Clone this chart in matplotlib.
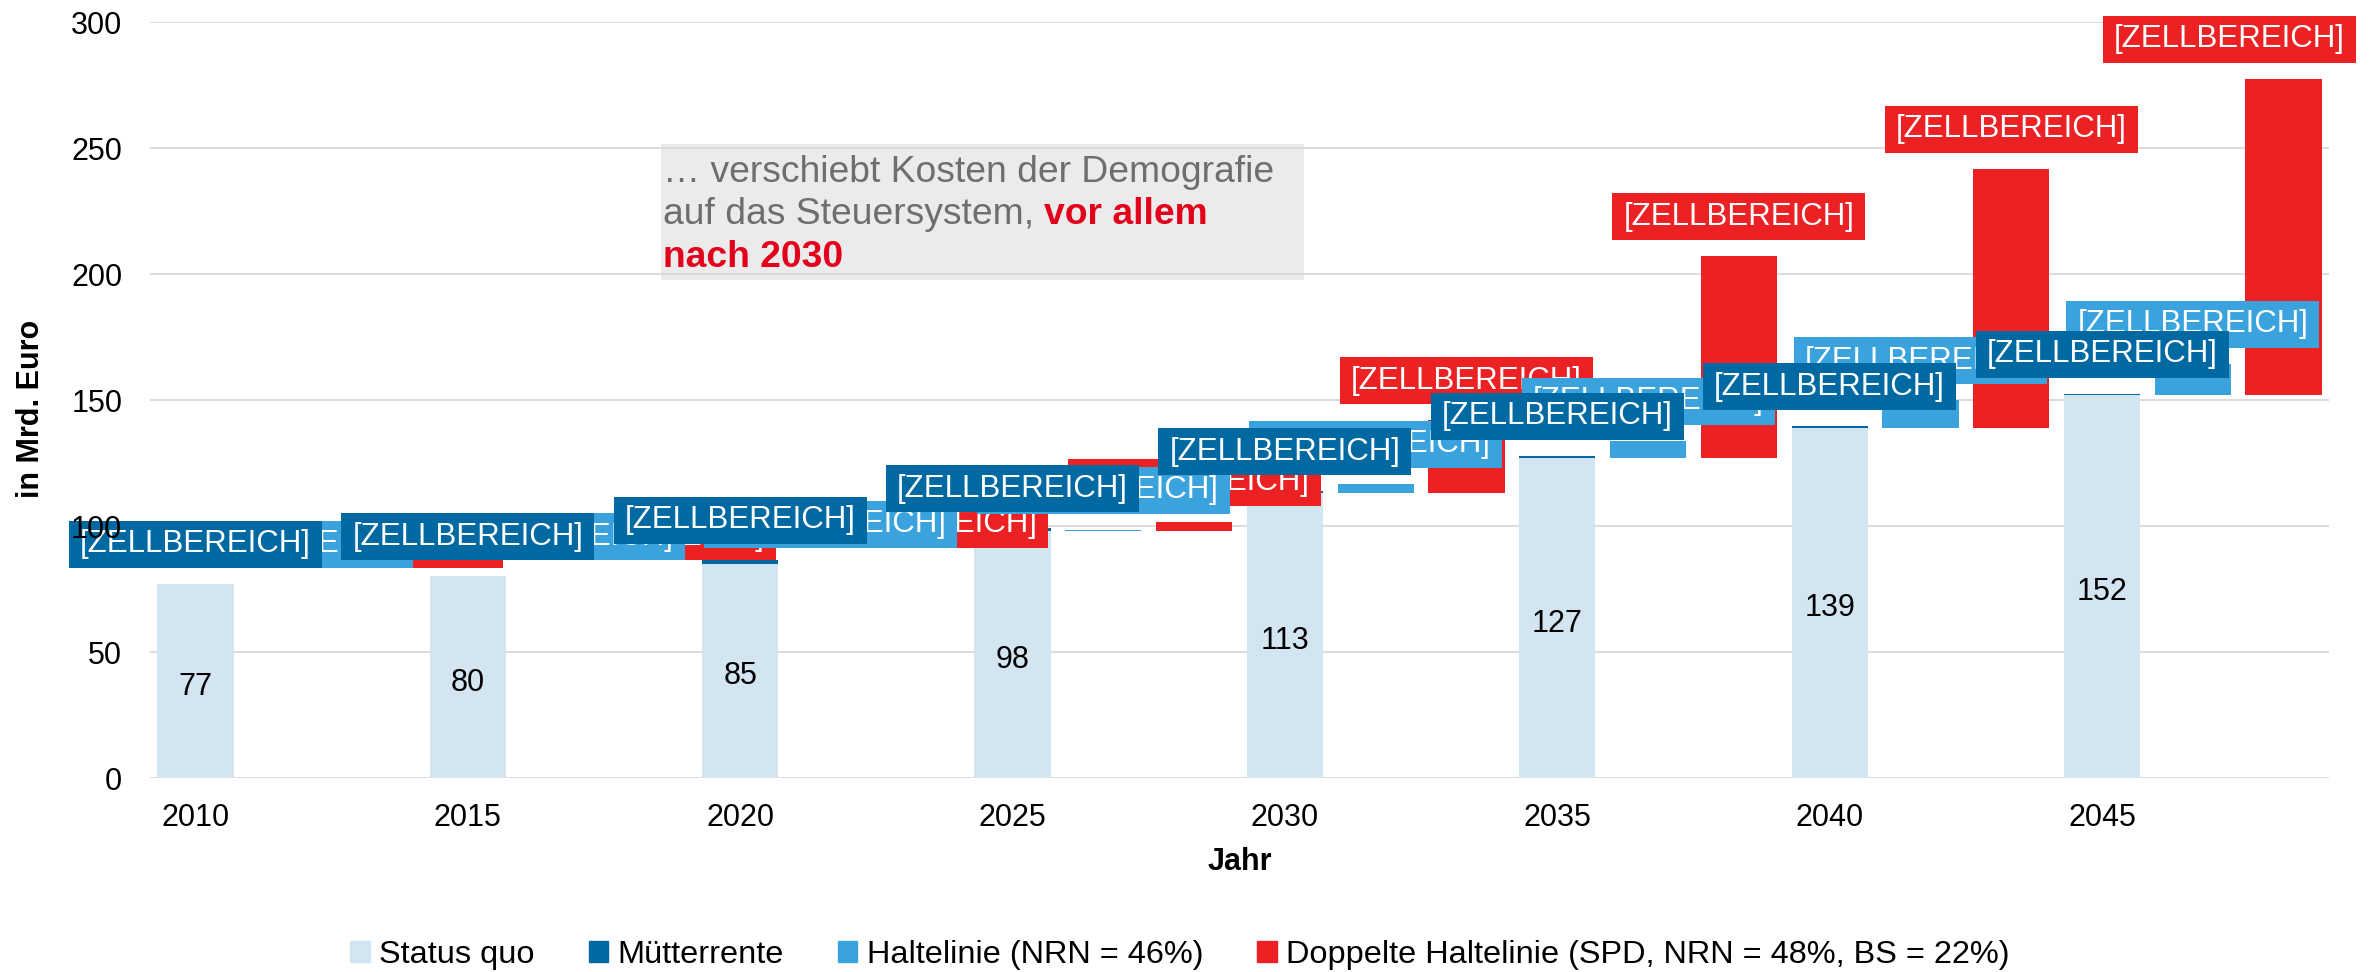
import matplotlib
matplotlib.use("Agg")
import matplotlib.pyplot as plt
import matplotlib.patches as mpatches
from matplotlib.transforms import IdentityTransform
import numpy as np

plt.rcParams['font.family'] = ['Liberation Sans', 'DejaVu Sans']

# ---- data ----
years = [2010, 2015, 2020, 2025, 2030, 2035, 2040, 2045]
status_quo = [77, 80, 85, 98, 113, 127, 139, 152]
muetterrente = [0, 0, 1.7, 1.2, 0.8, 0.9, 0.5, 0.4]
haltelinie = [0, 0, 0, 0.5, 3.8, 6.8, 11.0, 12.3]
doppelte = [0, 0, 0, 3.7, 29.0, 80.0, 102.7, 125.4]
series_names = ["Status quo", "Mütterrente", "Haltelinie (NRN = 46%)",
                "Doppelte Haltelinie (SPD, NRN = 48%, BS = 22%)"]
label_text = "[ZELLBEREICH]"

c_sq = "#D4E5F2"
c_mr = "#0069A1"
c_hl = "#3AA3DE"
c_dh = "#EB2124"

W, H, DPI = 2372, 972, 100
fig = plt.figure(figsize=(W / DPI, H / DPI), dpi=DPI)
ax_left, ax_right, ax_top, ax_bottom = 150, 2329, 22, 778
ax = fig.add_axes([ax_left / W, (H - ax_bottom) / H,
                   (ax_right - ax_left) / W, (ax_bottom - ax_top) / H])

n = len(years)
x0 = np.arange(n) * 3
ax.set_xlim(-0.5, 3 * n - 0.5)
ax.set_ylim(0, 300)

bw = 0.84
sq = np.array(status_quo, float)
mr = np.array(muetterrente, float)
hl = np.array(haltelinie, float)
dh = np.array(doppelte, float)

ax.bar(x0, sq, bw, color=c_sq, zorder=2, label=series_names[0])
ax.bar(x0, mr, bw, bottom=sq, color=c_mr, zorder=2, label=series_names[1])
ax.bar(x0 + 1, hl, bw, bottom=sq, color=c_hl, zorder=2, label=series_names[2])
ax.bar(x0 + 2, dh, bw, bottom=sq, color=c_dh, zorder=2, label=series_names[3])

# gridlines
for yv in np.arange(0, 301, 50):
    ax.axhline(yv, color="#D9D9D9", lw=1.3, zorder=1)

for s in ax.spines.values():
    s.set_visible(False)

ax.set_yticks(np.arange(0, 301, 50))
ax.set_xticks(x0)
ax.set_xticklabels([str(y) for y in years])
ax.tick_params(axis='both', length=0, labelsize=22)
ax.tick_params(axis='y', pad=20)
ax.tick_params(axis='x', pad=18)
ax.yaxis.set_zorder(10)

ax.set_xlabel("Jahr", fontsize=22, fontweight='bold', labelpad=10)
ax.set_ylabel("in Mrd. Euro", fontsize=22, fontweight='bold', va='center')
ax.yaxis.set_label_coords(-0.0545, 0.488)

# status quo value labels (centre of segment)
for xi, v in zip(x0, sq):
    ax.annotate(f"{v:.0f}", xy=(xi, v / 2), xytext=(0, -4), textcoords='offset points',
                ha='center', va='center', fontsize=22, color='black', zorder=4)

# data labels "[ZELLBEREICH]" above each bar
lw_px, lh_px, gap_px = 253, 47, 16
right_limit = 2356


def add_labels(xs, tops, color, z):
    for xi, t in zip(xs, tops):
        cx, ty = ax.transData.transform((xi, t))
        left = cx - lw_px / 2
        if left + lw_px > right_limit:
            left = right_limit - lw_px
        bottom = ty + gap_px
        r = mpatches.Rectangle((left, bottom), lw_px, lh_px, facecolor=color,
                               edgecolor='none', transform=IdentityTransform(),
                               zorder=z, clip_on=False)
        ax.add_artist(r)
        ax.text(left + lw_px / 2, bottom + lh_px / 2, label_text,
                transform=IdentityTransform(), ha='center', va='center',
                fontsize=22.5, color='white', zorder=z + 0.01, clip_on=False)


add_labels(x0 + 2, sq + dh, c_dh, 5)
add_labels(x0 + 1, sq + hl, c_hl, 6)
add_labels(x0, sq + mr, c_mr, 7)

# annotation box
bx0, bx1, by0, by1 = 661, 1304, 144, 280
box = mpatches.Rectangle((bx0 / W, (H - by1) / H), (bx1 - bx0) / W, (by1 - by0) / H,
                         transform=fig.transFigure, facecolor="#EBEBEB",
                         edgecolor='none', zorder=0.5, clip_on=False)
ax.add_artist(box)
grey = "#6E6E6E"
red = "#E3001B"
tx = 663 / W
fs_note = 26.8
ax.text(tx, (H - 182) / H, "… verschiebt Kosten der Demografie",
        transform=fig.transFigure, fontsize=fs_note, color=grey, va='baseline', ha='left')
t2 = ax.text(tx, (H - 224) / H, "auf das Steuersystem, ",
             transform=fig.transFigure, fontsize=fs_note, color=grey, va='baseline', ha='left')
ax.annotate("vor allem", xy=(1, 0), xycoords=t2, fontsize=fs_note, color=red,
            fontweight='bold', va='bottom', ha='left')
ax.text(tx, (H - 267) / H, "nach 2030", transform=fig.transFigure, fontsize=fs_note,
        color=red, fontweight='bold', va='baseline', ha='left')

# legend
handles = [mpatches.Patch(color=c) for c in (c_sq, c_mr, c_hl, c_dh)]
fig.legend(handles, series_names, ncol=4, loc='center',
           bbox_to_anchor=(0.4975, (H - 955) / H), frameon=False, fontsize=23.4,
           handlelength=0.6, handleheight=0.65, handletextpad=0.3,
           columnspacing=1.65, borderpad=0)

fig.savefig("out.png", dpi=DPI)
